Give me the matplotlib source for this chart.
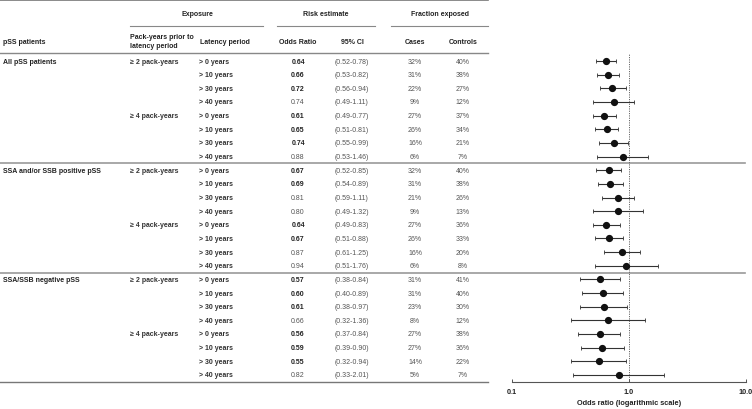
import matplotlib
matplotlib.use("Agg")
import matplotlib.pyplot as plt
from matplotlib.transforms import blended_transform_factory

plt.rcParams['font.family'] = ['Liberation Sans', 'DejaVu Sans']

groups = ["All pSS patients", "SSA and/or SSB positive pSS", "SSA/SSB negative pSS"]
packyears = ["≥ 2 pack-years", "≥ 4 pack-years"]
latency = ["> 0 years", "> 10 years", "> 30 years", "> 40 years"]

odds = [0.64, 0.66, 0.72, 0.74, 0.61, 0.65, 0.74, 0.88,
        0.67, 0.69, 0.81, 0.80, 0.64, 0.67, 0.87, 0.94,
        0.57, 0.60, 0.61, 0.66, 0.56, 0.59, 0.55, 0.82]
ci_low = [0.52, 0.53, 0.56, 0.49, 0.49, 0.51, 0.55, 0.53,
          0.52, 0.54, 0.59, 0.49, 0.49, 0.51, 0.61, 0.51,
          0.38, 0.40, 0.38, 0.32, 0.37, 0.39, 0.32, 0.33]
ci_high = [0.78, 0.82, 0.94, 1.11, 0.77, 0.81, 0.99, 1.46,
           0.85, 0.89, 1.11, 1.32, 0.83, 0.88, 1.25, 1.76,
           0.84, 0.89, 0.97, 1.36, 0.84, 0.90, 0.94, 2.01]
cases = [32, 31, 22, 9, 27, 26, 16, 6,
         32, 31, 21, 9, 27, 26, 16, 6,
         31, 31, 23, 8, 27, 27, 14, 5]
controls = [40, 38, 27, 12, 37, 34, 21, 7,
            40, 38, 26, 13, 36, 33, 20, 8,
            41, 40, 30, 12, 38, 36, 22, 7]

W, H = 752, 410
fig = plt.figure(figsize=(W / 100, H / 100), dpi=100)

# overlay axes in pixel coordinates
ov = fig.add_axes([0, 0, 1, 1])
ov.set_xlim(0, W)
ov.set_ylim(H, 0)
ov.axis('off')

# forest axes
n = len(odds)
row0, dy = 62.0, 13.65
top_px, bot_px = 55.0, 383.0
x0_px, x1_px = 512.0, 746.0
fa = fig.add_axes([x0_px / W, 1 - bot_px / H, (x1_px - x0_px) / W, (bot_px - top_px) / H])
fa.set_xscale('log')
fa.set_xlim(0.1, 10)
fa.set_ylim((bot_px - row0) / dy, (top_px - row0) / dy)
fa.patch.set_alpha(0)
for s in ['top', 'right', 'left']:
    fa.spines[s].set_visible(False)
fa.spines['bottom'].set_color('#555555')
fa.spines['bottom'].set_linewidth(0.8)
fa.set_yticks([])
fa.set_xticks([0.1, 1.0, 10.0])
fa.set_xticklabels(["0.1", "1.0", "10.0"], fontsize=5.2, fontweight='bold', color='#222222')
fa.xaxis.set_minor_locator(matplotlib.ticker.NullLocator())
fa.tick_params(axis='x', direction='in', length=2.5, width=0.7, color='#555555', pad=4.5)
fa.set_xlabel("Odds ratio (logarithmic scale)", fontsize=5.3, fontweight='bold', color='#222222', labelpad=3)

ys = list(range(n))
xerr = [[o - l for o, l in zip(odds, ci_low)], [h - o for o, h in zip(odds, ci_high)]]
fa.errorbar(odds, ys, xerr=xerr, fmt='o', color='#111111', ecolor='#333333',
            elinewidth=0.8, capsize=1.5, capthick=0.6, markersize=4.2, zorder=3)
fa.axvline(1.0, color='#666666', lw=0.7, ls=(0, (1.2, 1.2)), zorder=1)

tr = blended_transform_factory(ov.transData, fa.transData)
fs = 5
gray = '#555555'
dark = '#222222'

# headers
ov.plot([0, 488], [1, 1], color='#777777', lw=1.2)
ov.text(197, 15, "Exposure", fontsize=fs, fontweight='bold', color=dark, ha='center', va='center')
ov.text(326, 15, "Risk estimate", fontsize=fs, fontweight='bold', color=dark, ha='center', va='center')
ov.text(440, 15, "Fraction exposed", fontsize=fs, fontweight='bold', color=dark, ha='center', va='center')
ov.plot([130, 263], [27, 27], color='#888888', lw=0.8)
ov.plot([277, 375], [27, 27], color='#888888', lw=0.8)
ov.plot([391, 488], [27, 27], color='#888888', lw=0.8)
ov.text(3, 42, "pSS patients", fontsize=fs, fontweight='bold', color=dark, ha='left', va='center')
ov.text(130, 42, "Pack-years prior to\nlatency period", fontsize=fs, fontweight='bold', color=dark,
        ha='left', va='center', linespacing=1.3)
ov.text(200, 42, "Latency period", fontsize=fs, fontweight='bold', color=dark, ha='left', va='center')
ov.text(298, 42, "Odds Ratio", fontsize=fs, fontweight='bold', color=dark, ha='center', va='center')
ov.text(352, 42, "95% CI", fontsize=fs, fontweight='bold', color=dark, ha='center', va='center')
ov.text(415, 42, "Cases", fontsize=fs, fontweight='bold', color=dark, ha='center', va='center')
ov.text(463, 42, "Controls", fontsize=fs, fontweight='bold', color=dark, ha='center', va='center')
ov.plot([0, 488], [54, 54], color='#888888', lw=1.0)
ov.plot([0, 488], [bot_px, bot_px], color='#777777', lw=1.0)

# rows
for i in range(n):
    g, r = divmod(i, 8)
    p, l = divmod(r, 4)
    if r == 0:
        ov.text(3, i, groups[g], transform=tr, fontsize=fs, fontweight='bold', color=dark, va='center')
    if l == 0:
        ov.text(130, i, packyears[p], transform=tr, fontsize=fs, fontweight='bold', color='#333333', va='center')
    ov.text(199, i, latency[l], transform=tr, fontsize=fs, fontweight='bold', color='#333333', va='center')
    sig = ci_high[i] < 1.0
    ov.text(298, i, f"{odds[i]:.2f}", transform=tr, fontsize=fs,
            fontweight='bold' if sig else 'normal', color=dark if sig else gray, ha='center', va='center')
    ov.text(352, i, f"({ci_low[i]:.2f}-{ci_high[i]:.2f})", transform=tr, fontsize=fs,
            color=gray, ha='center', va='center')
    ov.text(415, i, f"{cases[i]}%", transform=tr, fontsize=fs, color=gray, ha='center', va='center')
    ov.text(463, i, f"{controls[i]}%", transform=tr, fontsize=fs, color=gray, ha='center', va='center')

for sep in [7.5, 15.5]:
    ov.plot([0, 745], [sep, sep], transform=tr, color='#999999', lw=1.2, clip_on=False)

fig.savefig("out.png", dpi=100)
